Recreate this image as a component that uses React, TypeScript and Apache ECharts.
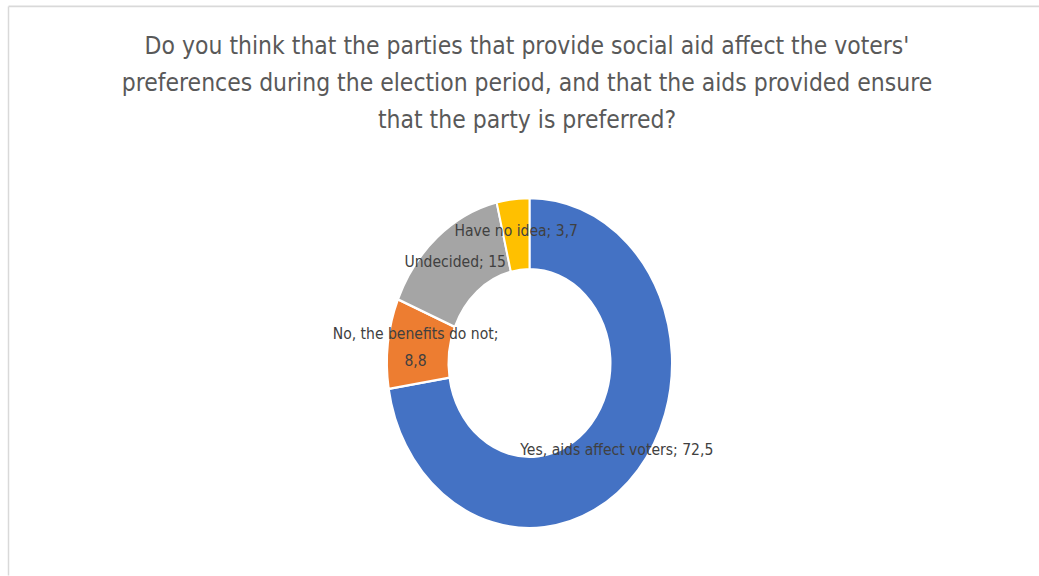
import React, { useEffect, useRef } from "react";
import * as echarts from "echarts";

const titleLines = [
  "Do you think that the parties that provide social aid affect the voters'",
  "preferences during the election period, and that the aids provided ensure",
  "that the party is preferred?",
];
const categories = [
  "Yes, aids affect voters",
  "No, the benefits do not",
  "Undecided",
  "Have no idea",
];
const values = [72.5, 8.8, 15, 3.7];
const colors = ["#4472C4", "#ED7D31", "#A5A5A5", "#FFC000"];

const SX = 1;
const SY = 1.158;
const W = 1039;
const H = 576 / SY;

const fmt = (v: number) => String(v).replace(".", ",");

export default function App() {
  const ref = useRef<HTMLDivElement>(null);
  useEffect(() => {
    if (!ref.current) return;
    const chart = echarts.init(ref.current, undefined, { renderer: "svg" });
    const font = "'DejaVu Sans', sans-serif";
    chart.setOption({
      animation: false,
      backgroundColor: "#ffffff",
      graphic: [
        {
          type: "line",
          shape: { x1: 8.5, y1: 5.6, x2: W, y2: 5.6 },
          style: { stroke: "#d9d9d9", lineWidth: 1.5 },
        },
        {
          type: "line",
          shape: { x1: 8.5, y1: 5.6, x2: 8.5, y2: H },
          style: { stroke: "#d9d9d9", lineWidth: 1.5 },
        },
        {
          type: "text",
          x: 527,
          y: 23,
          style: {
            text: titleLines.join("\n"),
            align: "center",
            verticalAlign: "top",
            fontFamily: font,
            fontSize: 22,
            lineHeight: 32,
            fill: "#595959",
          },
        },
      ],
      series: [
        {
          type: "pie",
          center: [529.5, 313.5],
          radius: [81, 142.5],
          startAngle: 90,
          clockwise: true,
          avoidLabelOverlap: false,
          itemStyle: { borderColor: "#ffffff", borderWidth: 2 },
          label: {
            show: true,
            position: "inside",
            color: "#404040",
            fontFamily: font,
            fontSize: 14,
            lineHeight: 23,
            formatter: (p: any) =>
              p.name + (p.dataIndex === 1 ? ";\n" : "; ") + fmt(p.value),
          },
          labelLine: { show: false },
          emphasis: { disabled: true },
          data: categories.map((c, i) => ({
            name: c,
            value: values[i],
            itemStyle: { color: colors[i] },
          })),
        },
      ],
    });
    return () => chart.dispose();
  }, []);
  return (
    <div
      style={{
        position: "absolute",
        left: 0,
        top: 0,
        width: W,
        height: 576,
        overflow: "hidden",
        background: "#fff",
      }}
    >
      <div
        ref={ref}
        style={{
          width: W,
          height: H,
          transform: `scale(${SX}, ${SY})`,
          transformOrigin: "0 0",
        }}
      />
    </div>
  );
}
